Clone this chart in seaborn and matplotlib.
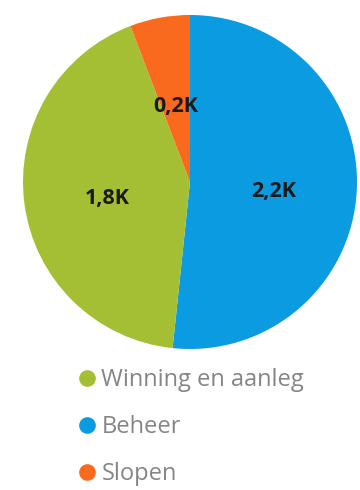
import matplotlib
matplotlib.use("Agg")
import matplotlib.pyplot as plt
import seaborn as sns
from matplotlib.lines import Line2D
import numpy as np

# Kosten per fase
categories = ["Winning en aanleg", "Beheer", "Slopen"]
values = [1795, 2180, 245]
colors = ["#A5BF35", "#0A9BE0", "#FA6A1E"]

# Slices are drawn clockwise from 12 o'clock in this order
pie_order = [1, 0, 2]

sns.set_theme(style="white")
plt.rcParams["font.family"] = ["Open Sans", "DejaVu Sans"]

fig = plt.figure(figsize=(3.6, 4.9), dpi=100)
ax = fig.add_axes([23 / 360, 1 - 349 / 490, 334 / 360, 334 / 490])

pie_vals = [values[i] for i in pie_order]
pie_cols = [colors[i] for i in pie_order]
wedges, _ = ax.pie(pie_vals, colors=pie_cols, startangle=90, counterclock=False,
                   wedgeprops=dict(linewidth=0))
ax.set_xlim(-1, 1)
ax.set_ylim(-1, 1)
ax.set_aspect("equal")


def fmt_k(v):
    return f"{v / 1000:.1f}K".replace(".", ",")


# label radius and small per-slice nudges (in radius units)
nudges = {0: (0.0, -0.035), 1: (0.0, -0.03), 2: (0.0, -0.01)}
for w, idx in zip(wedges, pie_order):
    mid = np.deg2rad((w.theta1 + w.theta2) / 2)
    r = 0.5 if idx != 2 else 0.47
    x = r * np.cos(mid) + nudges[idx][0]
    y = r * np.sin(mid) + nudges[idx][1]
    ax.text(x, y, fmt_k(values[idx]), ha="center", va="center",
            fontsize=15.5, fontweight="bold", color="#1a1a1a")

handles = [Line2D([0], [0], marker="o", linestyle="", markersize=12,
                  markerfacecolor=c, markeredgewidth=0) for c in colors]
fig.legend(handles, categories, loc="upper left",
           bbox_to_anchor=(69 / 360, 1 - 359 / 490), frameon=False,
           fontsize=17, labelcolor="#858585", handletextpad=0.22,
           handlelength=0.75, labelspacing=0.97, borderaxespad=0)

fig.savefig("out.png", dpi=100)
